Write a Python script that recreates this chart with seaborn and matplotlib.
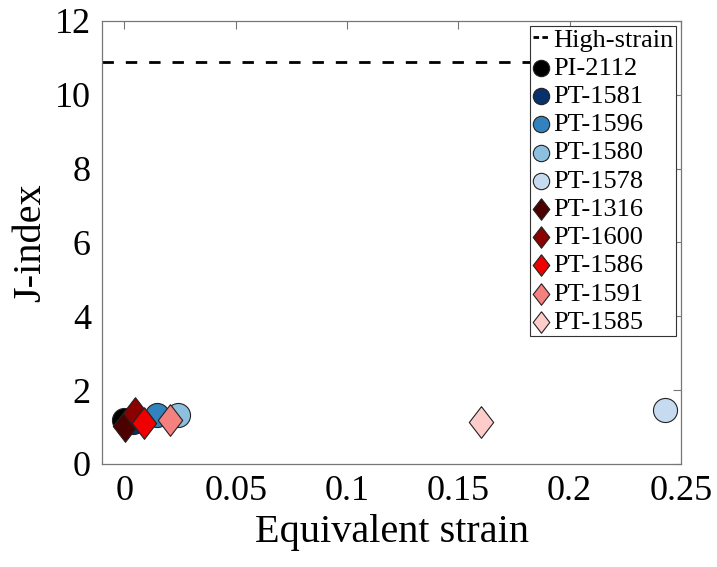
import matplotlib
matplotlib.use("Agg")
import matplotlib.pyplot as plt
import seaborn as sns

sns.set_style("white")
plt.rcParams['font.family'] = ['Liberation Serif', 'DejaVu Serif']
plt.rcParams['text.color'] = 'black'
plt.rcParams['axes.labelcolor'] = 'black'

# samples
samples = ['PI-2112', 'PT-1581', 'PT-1596', 'PT-1580', 'PT-1578',
           'PT-1316', 'PT-1600', 'PT-1586', 'PT-1591', 'PT-1585']
strain = [0.0, 0.004, 0.0145, 0.024, 0.243,
          0.0005, 0.005, 0.009, 0.0205, 0.160]
jindex = [1.2, 1.15, 1.34, 1.32, 1.47,
          1.02, 1.38, 1.1, 1.2, 1.15]
colors = ['#000000', '#08306b', '#3182bd', '#8cc0de', '#c6dbef',
          '#4d0000', '#8b0000', '#ee0000', '#f58080', '#ffcccc']
shapes = ['o', 'o', 'o', 'o', 'o', 'D', 'D', 'D', 'D', 'D']
high_strain = 10.9

diamond = [(0, 1), (0.77, 0), (0, -1), (-0.77, 0), (0, 1)]

fig = plt.figure(figsize=(7.17, 5.67), dpi=100)
ax = fig.add_axes([0.1423, 0.1817, 0.8075, 0.7813])

ax.axhline(high_strain, color='black', lw=2, ls=(0, (4.1, 4.3)), label='High-strain')
for name, xv, yv, c, m in zip(samples, strain, jindex, colors, shapes):
    if m == 'o':
        sns.scatterplot(x=[xv], y=[yv], ax=ax, color=c, marker='o', s=300,
                        edgecolor='#222222', linewidth=0.8, label=name, zorder=3)
    else:
        sns.scatterplot(x=[xv], y=[yv], ax=ax, color=c, marker=diamond, s=520,
                        edgecolor='#222222', linewidth=0.8, label=name, zorder=4)

ax.set_xlim(-0.01, 0.25)
ax.set_ylim(0, 12)
ax.set_xticks([0, 0.05, 0.1, 0.15, 0.2, 0.25])
ax.set_xticklabels(['0', '0.05', '0.1', '0.15', '0.2', '0.25'])
ax.set_yticks([0, 2, 4, 6, 8, 10, 12])
ax.set_xlabel('Equivalent strain', fontsize=29)
ax.set_ylabel('J-index', fontsize=29)
ax.tick_params(direction='in', length=6, width=0.8, color='#777777',
               labelcolor='black', labelsize=26, top=True, right=True, pad=8)
for sp in ax.spines.values():
    sp.set_color('#777777')
    sp.set_linewidth(0.9)

leg = ax.legend(loc='upper right', bbox_to_anchor=(1, 1), fontsize=19,
                frameon=True, fancybox=False, edgecolor='#333333', framealpha=1,
                handlelength=0.68, handletextpad=0.12, labelspacing=0.18,
                borderpad=0.08, borderaxespad=0.19, markerscale=0.68)
leg.get_frame().set_linewidth(0.8)
leg.get_lines()[0].set_linestyle((0, (2, 1.2)))

fig.savefig('out.png', dpi=100)
